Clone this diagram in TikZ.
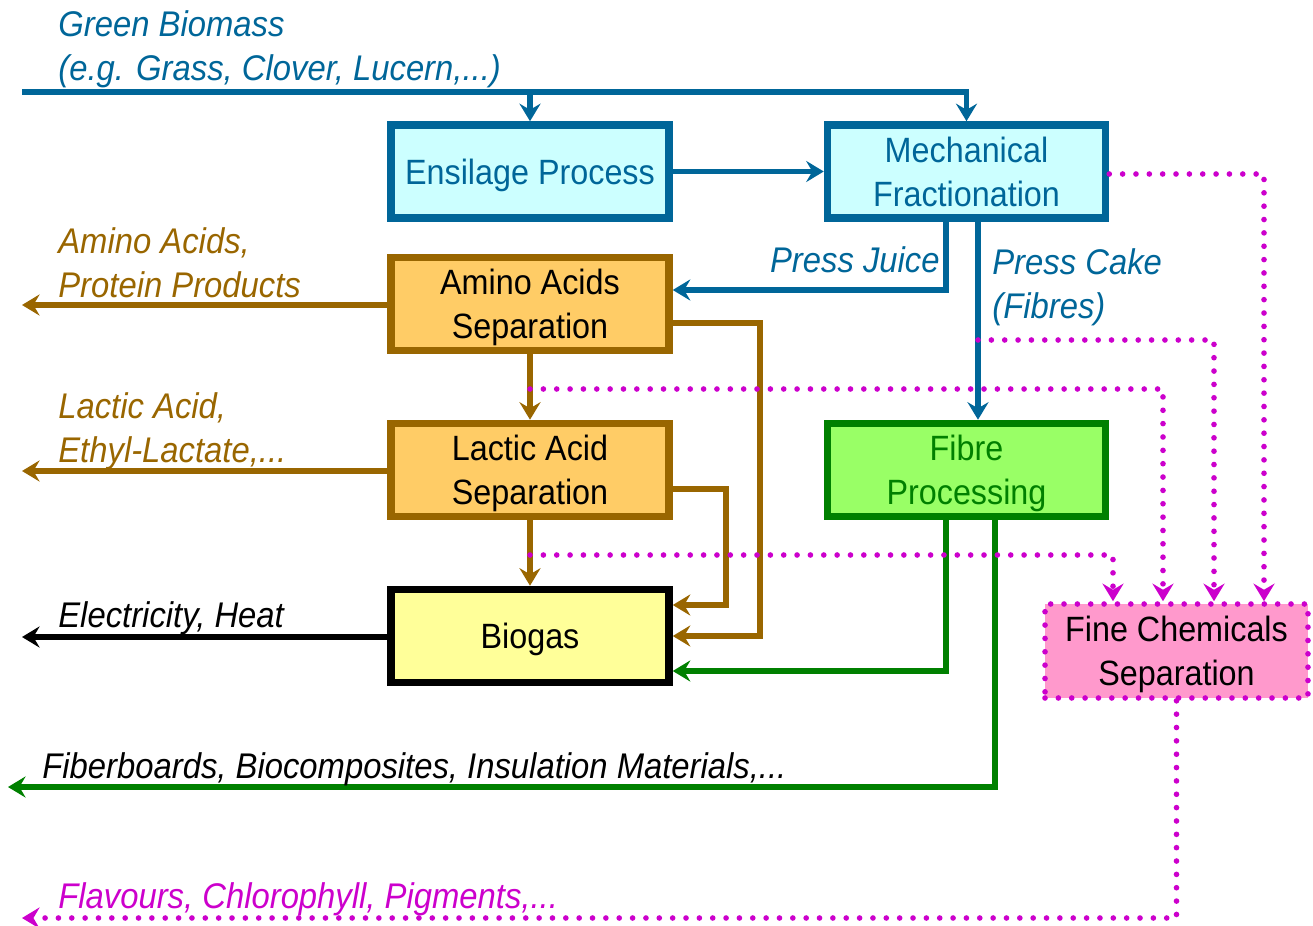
\documentclass[tikz,border=0pt]{standalone}
\usepackage{fontspec}
\setmainfont{Liberation Sans}[FakeStretch=0.92]
\usetikzlibrary{arrows.meta,calc}
\definecolor{bblue}{HTML}{006699}
\definecolor{cyanfill}{HTML}{CCFFFF}
\definecolor{brn}{HTML}{996600}
\definecolor{orfill}{HTML}{FFCC66}
\definecolor{yelfill}{HTML}{FFFF99}
\definecolor{grn}{HTML}{008000}
\definecolor{grnfill}{HTML}{99FF66}
\definecolor{mag}{HTML}{CC00CC}
\definecolor{pinkfill}{HTML}{FF99CC}
\tikzset{
  box/.style={draw, line width=4.3pt, minimum width=5.56cm, minimum height=1.86cm,
    align=center, text depth=0pt, inner sep=0pt},
  tipstyle/.style={-{Stealth[length=10pt,width=12pt,inset=3.5pt]}},
  flow/.style={line width=3.3pt, tipstyle},
  dots/.style={line width=3.2pt, line cap=round, dash pattern=on 0pt off 7.6pt},
  dotflow/.style={dots, tipstyle},
  finebox/.style={dots, draw=mag, fill=pinkfill, minimum width=5.26cm, minimum height=1.88cm,
    align=center, text depth=0pt, inner sep=0pt},
  lab/.style={font=\fontsize{20.3}{25}\selectfont\itshape, inner sep=0pt, align=left}
}
\begin{document}
\begin{tikzpicture}[x=0.02cm,y=-0.02cm, font=\fontsize{20}{25}\selectfont]
\useasboundingbox (0,0) rectangle (1313,926);
% boxes
\node[box, draw=bblue, fill=cyanfill, text=bblue] (ens) at (530,171.5) {Ensilage Process};
\node[box, draw=bblue, fill=cyanfill, text=bblue] (mech) at (966.5,171.5) {Mechanical\\Fractionation};
\node[box, draw=brn, fill=orfill] (amino) at (530,304) {Amino Acids\\Separation};
\node[box, draw=brn, fill=orfill] (lactic) at (530,470) {Lactic Acid\\Separation};
\node[box, draw=black, fill=yelfill] (biogas) at (530,636) {Biogas};
\node[box, draw=grn, fill=grnfill, text=grn] (fibre) at (966.5,470) {Fibre\\Processing};
\node[finebox] (fine) at (1176.5,651) {Fine Chemicals\\Separation};
% free ends
\coordinate (src) at (22,92);
\coordinate (aminoOut) at (22,305);
\coordinate (lacticOut) at (22,471);
\coordinate (bioOut) at (22,637);
\coordinate (fibOut) at (8,787);
\coordinate (flavOut) at (22,918);
\coordinate (cakeBr) at (978,340);
\coordinate (alBr) at (amino.south |- 0,389);
\coordinate (lbBr) at (lactic.south |- 0,555);
% blue flows
\draw[flow, bblue] (src) -| (mech.north);
\draw[flow, bblue] (src -| ens.north) -- (ens.north);
\draw[flow, bblue] (ens.east) -- (mech.west);
\draw[flow, bblue] ($(mech.south)+(-20.5,0)$) |- ($(amino.east)+(0,-14)$);
\draw[flow, bblue] ($(mech.south)+(11.5,0)$) -- ($(fibre.north)+(11.5,0)$);
% brown flows
\draw[flow, brn] (amino.south) -- (lactic.north);
\draw[flow, brn] (lactic.south) -- (biogas.north);
\draw[flow, brn] ($(amino.east)+(0,19)$) -- ++(87.5,0) |- (biogas.east);
\draw[flow, brn] ($(lactic.east)+(0,19)$) -- ++(53.5,0) |- ($(biogas.east)+(0,-31)$);
\draw[flow, brn] (amino.west |- aminoOut) -- (aminoOut);
\draw[flow, brn] (lactic.west |- lacticOut) -- (lacticOut);
\draw[flow, black] (biogas.west |- bioOut) -- (bioOut);
% green flows
\draw[flow, grn] ($(fibre.south)+(-20.5,0)$) |- ($(biogas.east)+(0,35)$);
\draw[flow, grn] ($(fibre.south)+(28.5,0)$) |- (fibOut);
% magenta dotted flows
\draw[dotflow, mag] ($(mech.east)+(0,2.5)$) -| ($(fine.north)+(87.5,0)$);
\draw[dotflow, mag] (cakeBr) -| ($(fine.north)+(37.5,0)$);
\draw[dotflow, mag] (alBr) -| ($(fine.north)+(-13.5,0)$);
\draw[dotflow, mag] (lbBr) -| ($(fine.north)+(-63.5,0)$);
\draw[dotflow, mag] (fine.south) |- (flavOut);
% labels
\node[lab, text=bblue, anchor=north west] (gb) at (58,10) {Green Biomass\\(e.g. Grass, Clover, Lucern,...)};
\node[lab, text=bblue, anchor=base east] (pj) at (940,273) {Press Juice};
\node[lab, text=bblue, anchor=north west] (pc) at (992,248.4) {Press Cake\\(Fibres)};
\node[lab, text=brn, anchor=north west] (aal) at (58,227.4) {Amino Acids,\\Protein Products};
\node[lab, text=brn, anchor=north west] (lal) at (58,392.4) {Lactic Acid,\\Ethyl-Lactate,...};
\node[lab, anchor=base west] (el) at (58,627) {Electricity, Heat};
\node[lab, anchor=base west] (fl) at (42,778) {Fiberboards, Biocomposites, Insulation Materials,...};
\node[lab, text=mag, anchor=base west] (fv) at (58,908) {Flavours, Chlorophyll, Pigments,...};
\end{tikzpicture}
\end{document}
